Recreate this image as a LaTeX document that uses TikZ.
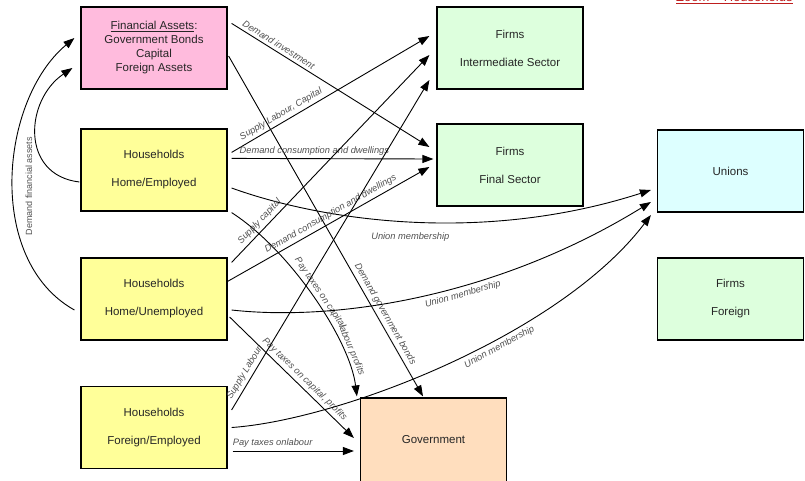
\documentclass[tikz,border=0pt]{standalone}
\usepackage{fontspec}
\setmainfont{Liberation Sans}
\usetikzlibrary{arrows.meta}
\definecolor{pinkc}{RGB}{255,187,221}
\definecolor{greenc}{RGB}{221,255,221}
\definecolor{cyanc}{RGB}{221,255,255}
\definecolor{yellowc}{RGB}{255,255,153}
\definecolor{peachc}{RGB}{255,222,190}
\definecolor{lblc}{RGB}{80,80,80}
\definecolor{titlec}{RGB}{190,30,30}
\begin{document}
\begin{tikzpicture}[x=1pt,y=-1pt,
  box/.style={draw=black, line width=1.2pt, minimum width=146pt, minimum height=82pt,
    align=center, inner sep=0pt, text=black!85, font=\fontsize{11.5}{28}\selectfont},
  fabox/.style={box, font=\fontsize{11.5}{14}\selectfont},
  conn/.style={line width=0.9pt, -{Triangle[length=11pt,width=8pt]}},
  lbl/.style={font=\fontsize{9.3}{11}\selectfont\itshape, text=lblc, inner sep=3pt},
]
\useasboundingbox (0,0) rectangle (805,480);

% boxes
\node[fabox, fill=pinkc] (fa) at (154,48) {\underline{Financial Assets}:\\Government Bonds\\Capital\\Foreign Assets};
\node[box, fill=greenc] (fi) at (510,48) {Firms\\Intermediate Sector};
\node[box, fill=greenc] (ff) at (510,165) {Firms\\Final Sector};
\node[box, fill=cyanc] (un) at (730.5,171) {Unions};
\node[box, fill=greenc] (fo) at (730.5,299) {Firms\\Foreign};
\node[box, fill=yellowc] (he) at (154,170) {Households\\Home/Employed};
\node[box, fill=yellowc] (hu) at (154,299) {Households\\Home/Unemployed};
\node[box, fill=yellowc] (hf) at (154,427.5) {Households\\Foreign/Employed};
\node[box, fill=peachc, minimum height=84pt] (gov) at (433.5,440) {Government};

% title (cut off at top)
\node[anchor=base west, inner sep=0pt, text=titlec, font=\fontsize{13}{15}\selectfont] (title) at (676,1.8) {\underline{Zoom – Households}};

% Financial assets connectors
\draw[conn] ([shift={(4,17)}]fa.north east) -- ([shift={(-7,-18)}]ff.west)
  node[lbl, sloped, above, pos=.22] {Demand investment};
\draw[conn] ([shift={(1,8)}]fa.east) -- ([shift={(-10.5,-1)}]gov.north)
  node[lbl, sloped, above, pos=.77] {Demand government bonds};

% Households Home/Employed
\draw[conn] ([shift={(4,24)}]he.north east) -- ([shift={(-7,-12)}]fi.west)
  node[lbl, sloped, above, pos=.27] {Supply Labour, Capital};
\draw[conn] ([shift={(4,30)}]he.north east) -- ([shift={(-3,-6)}]ff.west)
  node[lbl, above, pos=.41] {Demand consumption and dwellings};
\draw[conn] ([shift={(4,18)}]he.east) .. controls (320,220) and (480,245) .. ([shift={(-6,19)}]un.west)
  node[lbl, below=8pt, pos=.5] {Union membership};
\draw[conn] ([shift={(4,1)}]he.south east) .. controls (290,250) and (350,340) .. ([shift={(-3,-1)}]gov.north west)
  node[lbl, sloped, above, pos=.5] {Pay taxes on capital}
  node[lbl, sloped, above, pos=.77] {labour profits};
\draw[conn] ([shift={(-1,12)}]he.west) .. controls (20,175) and (25,100) .. ([shift={(-8,20)}]fa.west);

% Households Home/Unemployed
\draw[conn] ([shift={(4,5)}]hu.north east) -- ([shift={(-7,7)}]fi.west)
  node[lbl, sloped, above, pos=.17] {Supply capital};
\draw[conn] ([shift={(0,24)}]hu.north east) -- ([shift={(-7,2)}]ff.west)
  node[lbl, sloped, above, pos=.53] {Demand consumption and dwellings};
\draw[conn] ([shift={(4,11)}]hu.east) .. controls (340,322) and (500,295) .. ([shift={(-6,31)}]un.west)
  node[lbl, sloped, below=1pt, pos=.58] {Union membership};
\draw[conn] ([shift={(2,18)}]hu.east) -- ([shift={(-6,-2)}]gov.west)
  node[lbl, sloped, above, pos=.56] {Pay taxes on capital, profits};
\draw[conn] ([shift={(-6,11)}]hu.west) .. controls (-15,260) and (0,100) .. ([shift={(-6,-10)}]fa.west);
\node[font=\fontsize{9}{11}\selectfont, text=lblc, rotate=90, inner sep=0pt] (dfa) at (29,186) {Demand financial assets};

% Households Foreign/Employed
\draw[conn] ([shift={(4,-17.5)}]hf.east) -- ([shift={(-7,32)}]fi.west)
  node[lbl, sloped, above, pos=.1] {Supply Labour};
\draw[conn] ([shift={(4,0)}]hf.east) .. controls (340,420) and (560,335) .. ([shift={(-6,44)}]un.west)
  node[lbl, sloped, below=1pt, pos=.6] {Union membership};
\draw[conn] ([shift={(5,23.5)}]hf.east) -- ([shift={(-6,11)}]gov.west)
  node[lbl, above, pos=.33] {Pay taxes onlabour};
\end{tikzpicture}
\end{document}
